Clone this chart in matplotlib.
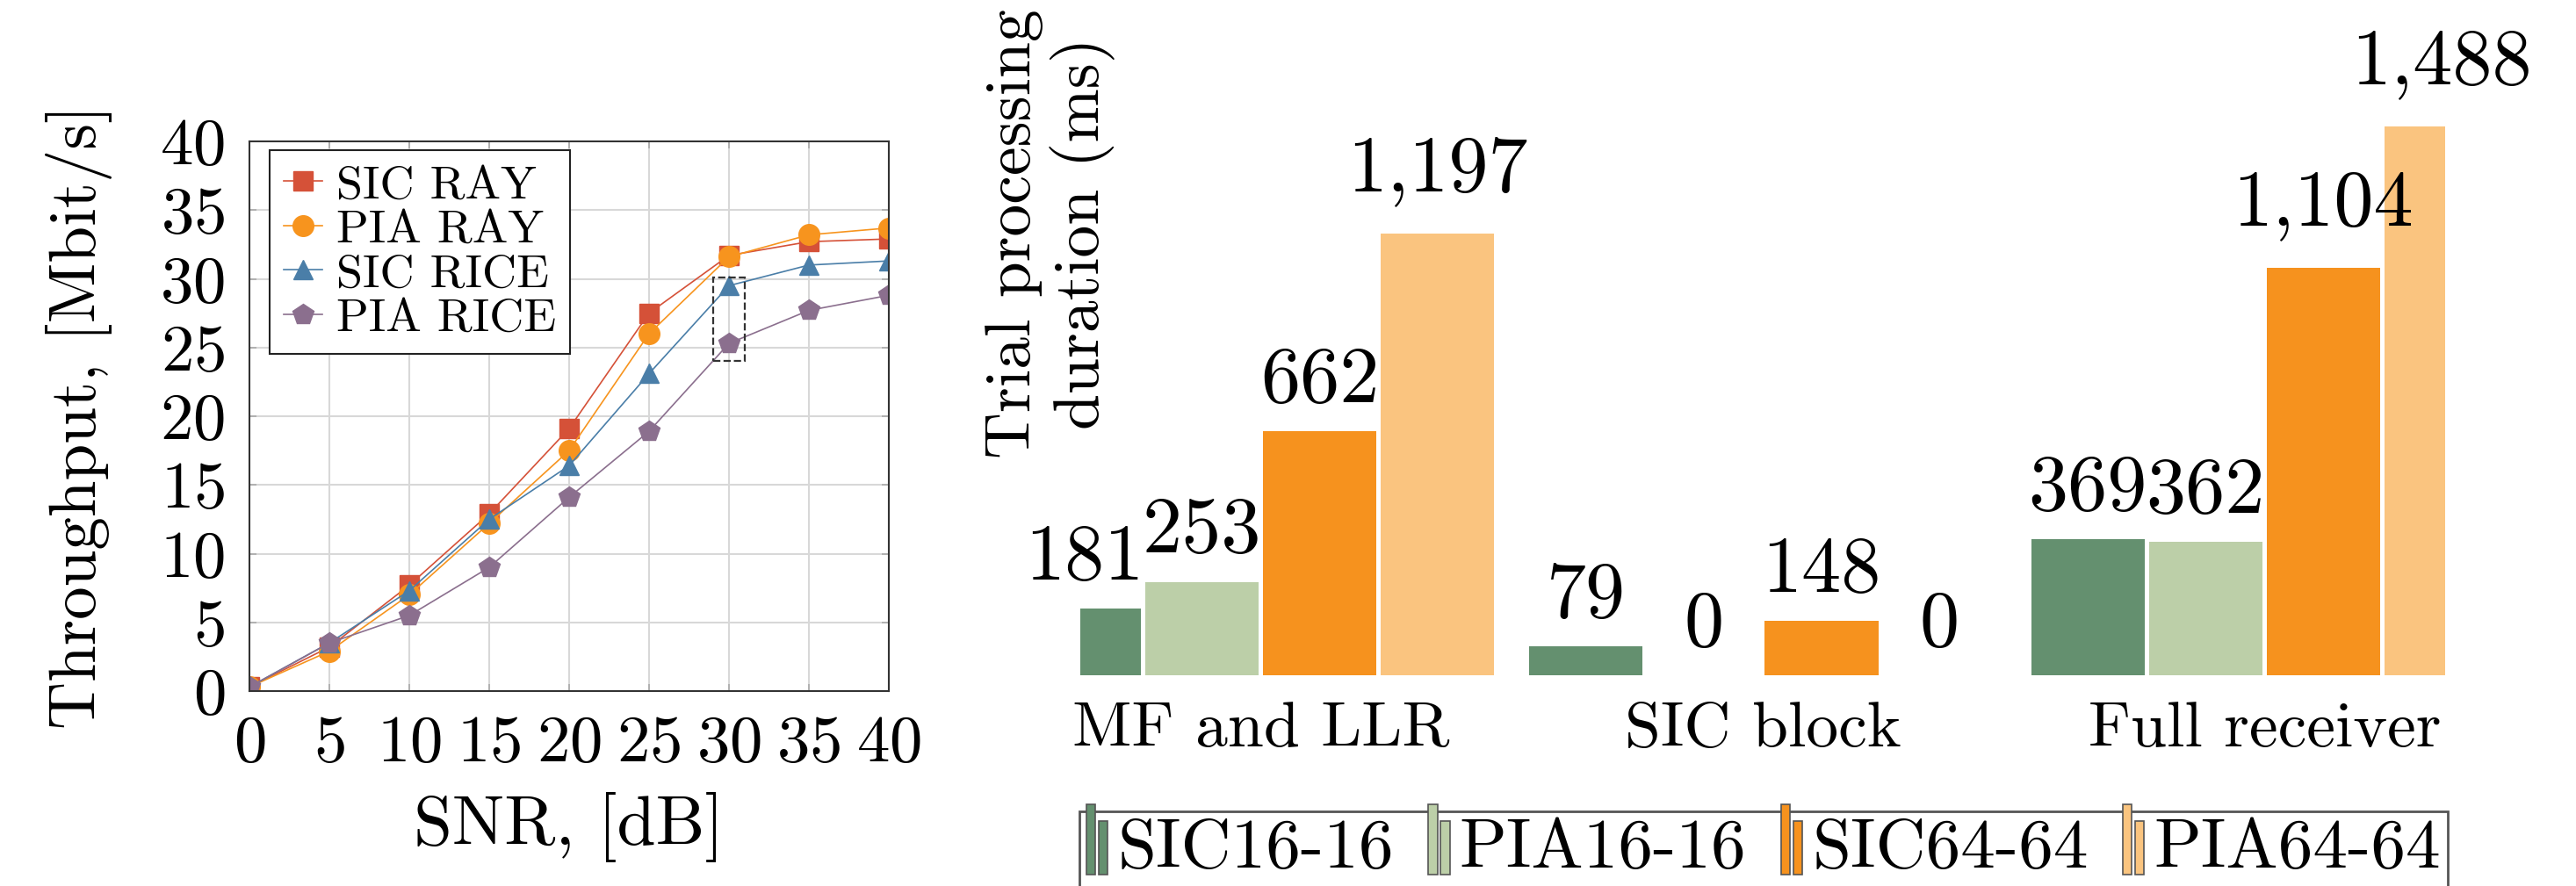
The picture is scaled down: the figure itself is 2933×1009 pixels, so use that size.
import matplotlib
matplotlib.use('Agg')
import matplotlib.pyplot as plt
from matplotlib.patches import Rectangle, Patch
from matplotlib.legend_handler import HandlerBase

plt.rcParams['font.family'] = ['cmr10', 'DejaVu Serif']
plt.rcParams['mathtext.fontset'] = 'cm'
plt.rcParams['axes.formatter.use_mathtext'] = True

# throughput vs SNR
snr = [0, 5, 10, 15, 20, 25, 30, 35, 40]
sic_ray = [0.3, 3.2, 7.7, 12.9, 19.1, 27.5, 31.7, 32.7, 32.9]
pia_ray = [0.3, 2.9, 7.0, 12.2, 17.5, 26.0, 31.6, 33.2, 33.7]
sic_rice = [0.3, 3.5, 7.3, 12.5, 16.4, 23.1, 29.5, 31.0, 31.3]
pia_rice = [0.3, 3.5, 5.5, 9.0, 14.1, 18.9, 25.3, 27.7, 28.8]

# processing durations (ms)
groups = ['MF and LLR', 'SIC block', 'Full receiver']
sic16 = [181, 79, 369]
pia16 = [253, 0, 362]
sic64 = [662, 148, 1104]
pia64 = [1197, 0, 1488]
bar_names = ['SIC16-16', 'PIA16-16', 'SIC64-64', 'PIA64-64']
bar_colors = ['#64906f', '#bccfa8', '#f6921e', '#fac47f']

W, H = 2933, 1009
fig = plt.figure(figsize=(W / 100, H / 100), dpi=100)

# ---- left: throughput curves ----
ax = fig.add_axes([284 / W, 1 - 787 / H, 728 / W, 626 / H])
ax.plot(snr, sic_ray, '-s', color='#d55138', lw=1.2, ms=16, label='SIC RAY')
ax.plot(snr, pia_ray, '-o', color='#f7941e', lw=1.2, ms=17, label='PIA RAY')
ax.plot(snr, sic_rice, '-^', color='#4a7ea8', lw=1.2, ms=16, label='SIC RICE')
ax.plot(snr, pia_rice, '-p', color='#8b6f8e', lw=1.2, ms=18, label='PIA RICE')
ax.add_patch(Rectangle((29, 24), 2, 6.1, fill=False, ls='--', lw=1.6,
                       edgecolor='#333333', zorder=5))
ax.set_xlim(0, 40)
ax.set_ylim(0, 40)
ax.set_xticks(snr)
ax.set_yticks(range(0, 41, 5))
ax.grid(True, color='#d8d8d8', lw=1.5)
ax.set_axisbelow(True)
for s in ax.spines.values():
    s.set_color('#333333')
    s.set_linewidth(1.5)
ax.tick_params(direction='in', top=True, right=True, length=6, width=1.2,
               color='#aaaaaa', labelsize=54, pad=20)
ax.set_xlabel('SNR, [dB]', fontsize=57, labelpad=14)
ax.set_ylabel('Throughput, [Mbit/s]', fontsize=54)
ax.yaxis.set_label_coords(-0.214, 0.5)
leg = ax.legend(loc='upper left', bbox_to_anchor=(0.0316, 0.984), borderaxespad=0,
                fontsize=39, handlelength=0.8, handletextpad=0.3, labelspacing=0.05,
                borderpad=0.3, fancybox=False, framealpha=1, edgecolor='#222222')
leg.get_frame().set_linewidth(1.5)

# ---- right: processing durations ----
bx = fig.add_axes([1230 / W, 1 - 769 / H, 1554 / W, 714 / H])
step = 0.2347
for i, (vals, c) in enumerate(zip([sic16, pia16, sic64, pia64], bar_colors)):
    xs = [g + (i - 1.5) * step for g in range(len(groups))]
    bx.bar(xs, vals, width=0.226, color=c, edgecolor='none')
    for x, v in zip(xs, vals):
        txt = f'{v:,}'
        # labels with a comma sit a little higher (descender of the comma)
        pad = 22 if ',' in txt else 11
        bx.annotate(txt, (x, v), xytext=(0, pad), textcoords='offset points',
                    ha='center', va='bottom', fontsize=65)
bx.set_xlim(-0.36, 2.36)
bx.set_ylim(0, 1700)
bx.set_xticks(range(len(groups)))
bx.set_xticklabels(groups)
bx.tick_params(axis='x', length=0, labelsize=53, pad=22)
bx.set_yticks([])
for s in bx.spines.values():
    s.set_visible(False)
fig.text(1196 / W, 1 - 266 / H, 'Trial processing\nduration (ms)', rotation=90,
         ha='center', va='center', multialignment='center', fontsize=53,
         linespacing=1.15)


class PairBarHandler(HandlerBase):
    # small two-bar glyph used in the bar legend
    def create_artists(self, legend, orig_handle, xdescent, ydescent,
                       width, height, fontsize, trans):
        fc = orig_handle.get_facecolor()
        bw = width * 0.4
        y0 = -ydescent - 0.15 * height
        tall = Rectangle((-xdescent, y0), bw, height * 1.45, facecolor=fc,
                         edgecolor='#555555', lw=1.2, transform=trans)
        short = Rectangle((-xdescent + bw * 1.35, y0), bw, height * 1.1,
                          facecolor=fc, edgecolor='#555555', lw=1.2,
                          transform=trans)
        return [tall, short]


handles = [Patch(facecolor=c) for c in bar_colors]
bleg = fig.legend(handles, bar_names, loc='upper left',
                  bbox_to_anchor=(1229 / W, 0, 1558 / W, 1 - 924 / H),
                  mode='expand', ncol=4, borderaxespad=0, fontsize=57,
                  handlelength=0.33, handletextpad=0.12, borderpad=0.1,
                  columnspacing=1.0, fancybox=False, framealpha=1,
                  edgecolor='#555555', handler_map={Patch: PairBarHandler()})
bleg.get_frame().set_linewidth(2)

fig.savefig('out.png', dpi=100)
